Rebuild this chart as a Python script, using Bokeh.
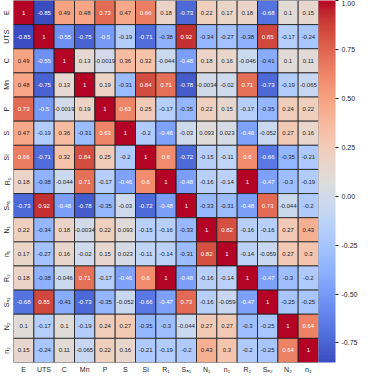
from bokeh.plotting import figure
from bokeh.models import (ColumnDataSource, LinearColorMapper, ColorBar, FixedTicker,
                          FactorRange, NumeralTickFormatter)
from bokeh.core.properties import value
from bokeh.embed import file_html
from bokeh.resources import INLINE

labels = ["E", "UTS", "C", "Mn", "P", "S", "Si", "R₁", "Sₐ₁", "N₁", "n₁", "R₂", "Sₐ₂", "N₂", "n₂"]

row_E   = [1, -0.85, 0.49, 0.48, 0.73, 0.47, 0.66, 0.18, -0.73, 0.22, 0.17, 0.18, -0.68, 0.1, 0.15]
row_UTS = [-0.85, 1, -0.55, -0.75, -0.5, -0.19, -0.71, -0.38, 0.92, -0.34, -0.27, -0.38, 0.85, -0.17, -0.24]
row_C   = [0.49, -0.55, 1, 0.13, -0.0019, 0.36, 0.32, -0.044, -0.48, 0.18, 0.16, -0.046, -0.41, 0.1, 0.11]
row_Mn  = [0.48, -0.75, 0.13, 1, 0.19, -0.31, 0.84, 0.71, -0.78, -0.0034, -0.02, 0.71, -0.73, -0.19, -0.065]
row_P   = [0.73, -0.5, -0.0019, 0.19, 1, 0.63, 0.25, -0.17, -0.35, 0.22, 0.15, -0.17, -0.35, 0.24, 0.22]
row_S   = [0.47, -0.19, 0.36, -0.31, 0.63, 1, -0.2, -0.46, -0.03, 0.093, 0.023, -0.46, -0.052, 0.27, 0.16]
row_Si  = [0.66, -0.71, 0.32, 0.84, 0.25, -0.2, 1, 0.6, -0.72, -0.15, -0.11, 0.6, -0.66, -0.35, -0.21]
row_R1  = [0.18, -0.38, -0.044, 0.71, -0.17, -0.46, 0.6, 1, -0.48, -0.16, -0.14, 1, -0.47, -0.3, -0.19]
row_SA1 = [-0.73, 0.92, -0.48, -0.78, -0.35, -0.03, -0.72, -0.48, 1, -0.33, -0.31, -0.48, 0.73, -0.044, -0.2]
row_N1  = [0.22, -0.34, 0.18, -0.0034, 0.22, 0.093, -0.15, -0.16, -0.33, 1, 0.82, -0.16, -0.16, 0.27, 0.43]
row_n1  = [0.17, -0.27, 0.16, -0.02, 0.15, 0.023, -0.11, -0.14, -0.31, 0.82, 1, -0.14, -0.059, 0.27, 0.3]
row_R2  = [0.18, -0.38, -0.046, 0.71, -0.17, -0.46, 0.6, 1, -0.48, -0.16, -0.14, 1, -0.47, -0.3, -0.2]
row_SA2 = [-0.68, 0.85, -0.41, -0.73, -0.35, -0.052, -0.66, -0.47, 0.73, -0.16, -0.059, -0.47, 1, -0.25, -0.25]
row_N2  = [0.1, -0.17, 0.1, -0.19, 0.24, 0.27, -0.35, -0.3, -0.044, 0.27, 0.27, -0.3, -0.25, 1, 0.64]
row_n2  = [0.15, -0.24, 0.11, -0.065, 0.22, 0.16, -0.21, -0.19, -0.2, 0.43, 0.3, -0.2, -0.25, 0.64, 1]

corr = [row_E, row_UTS, row_C, row_Mn, row_P, row_S, row_Si, row_R1, row_SA1,
        row_N1, row_n1, row_R2, row_SA2, row_N2, row_n2]

cbar_ticks = [-0.75, -0.5, -0.25, 0.0, 0.25, 0.5, 0.75, 1.0]
vmin, vmax = -0.85, 1.0

# coolwarm (Moreland) control colours
cw = [(59, 76, 192), (68, 90, 204), (77, 104, 215), (87, 117, 225), (98, 130, 234),
      (108, 142, 241), (119, 154, 247), (130, 165, 251), (141, 176, 254), (152, 185, 255),
      (163, 194, 255), (174, 201, 253), (184, 208, 249), (194, 213, 244), (204, 217, 238),
      (213, 219, 230), (221, 221, 221), (229, 216, 209), (236, 211, 197), (241, 204, 185),
      (245, 196, 173), (247, 187, 160), (247, 177, 148), (247, 166, 135), (244, 154, 123),
      (241, 141, 111), (236, 127, 99), (229, 112, 88), (222, 96, 77), (213, 80, 66),
      (203, 62, 56), (192, 40, 47), (180, 4, 38)]
N = 256
pal_rgb = []
for i in range(N):
    t = i / (N - 1) * (len(cw) - 1)
    k = min(int(t), len(cw) - 2)
    f = t - k
    c = tuple(round(cw[k][j] + (cw[k + 1][j] - cw[k][j]) * f) for j in range(3))
    pal_rgb.append(c)
palette = ["#%02x%02x%02x" % c for c in pal_rgb]


def lum(c):
    out = []
    for v in c:
        v = v / 255
        out.append(v / 12.92 if v <= 0.03928 else ((v + 0.055) / 1.055) ** 2.4)
    return 0.2126 * out[0] + 0.7152 * out[1] + 0.0722 * out[2]


xs, ys, vals, txt, tcol = [], [], [], [], []
for i, rl in enumerate(labels):
    for j, cl in enumerate(labels):
        v = corr[i][j]
        xs.append(cl)
        ys.append(rl)
        vals.append(v)
        txt.append(format(v, ".2g"))
        idx = int((v - vmin) / (vmax - vmin) * N)
        idx = max(0, min(N - 1, idx))
        tcol.append("#262626" if lum(pal_rgb[idx]) > 0.408 else "#ffffff")

src = ColumnDataSource(dict(x=xs, y=ys, v=vals, t=txt, tc=tcol))
mapper = LinearColorMapper(palette=palette, low=vmin, high=vmax)

p = figure(width=360, height=375, x_range=FactorRange(factors=labels, range_padding=0),
           y_range=FactorRange(factors=labels[::-1], range_padding=0),
           output_backend="svg", toolbar_location=None,
           min_border_left=0, min_border_top=0, min_border_right=0, min_border_bottom=0)

p.rect(x="x", y="y", width=1, height=1, source=src,
       fill_color={"field": "v", "transform": mapper},
       line_color="#1a1a1a", line_width=0.8)
p.text(x="x", y="y", text="t", source=src, text_color="tc",
       text_align="center", text_baseline="middle",
       text_font_size="6px", text_font=value("Liberation Sans"))

p.grid.visible = False
p.outline_line_color = None
for ax in (p.xaxis[0], p.yaxis[0]):
    ax.axis_line_color = None
    ax.major_tick_line_color = None
    ax.minor_tick_line_color = None
    ax.major_tick_out = 0
    ax.major_tick_in = 0
    ax.major_label_text_font = "Liberation Sans"
    ax.major_label_text_font_size = "7px"
    ax.major_label_text_color = "#262626"
    ax.major_label_standoff = 3
p.yaxis.major_label_orientation = "vertical"

cb = ColorBar(color_mapper=mapper, width=17, padding=0, margin=20,
              ticker=FixedTicker(ticks=cbar_ticks),
              formatter=NumeralTickFormatter(format="0.00"),
              major_label_text_font="Liberation Sans",
              major_label_text_font_size="7px",
              major_label_text_color="#262626",
              major_tick_in=0, major_tick_out=3,
              major_tick_line_color="#262626",
              label_standoff=3, bar_line_color=None,
              background_fill_color=None, border_line_color=None)
p.add_layout(cb, "right")

open("out.html", "w").write(file_html(p, INLINE))
